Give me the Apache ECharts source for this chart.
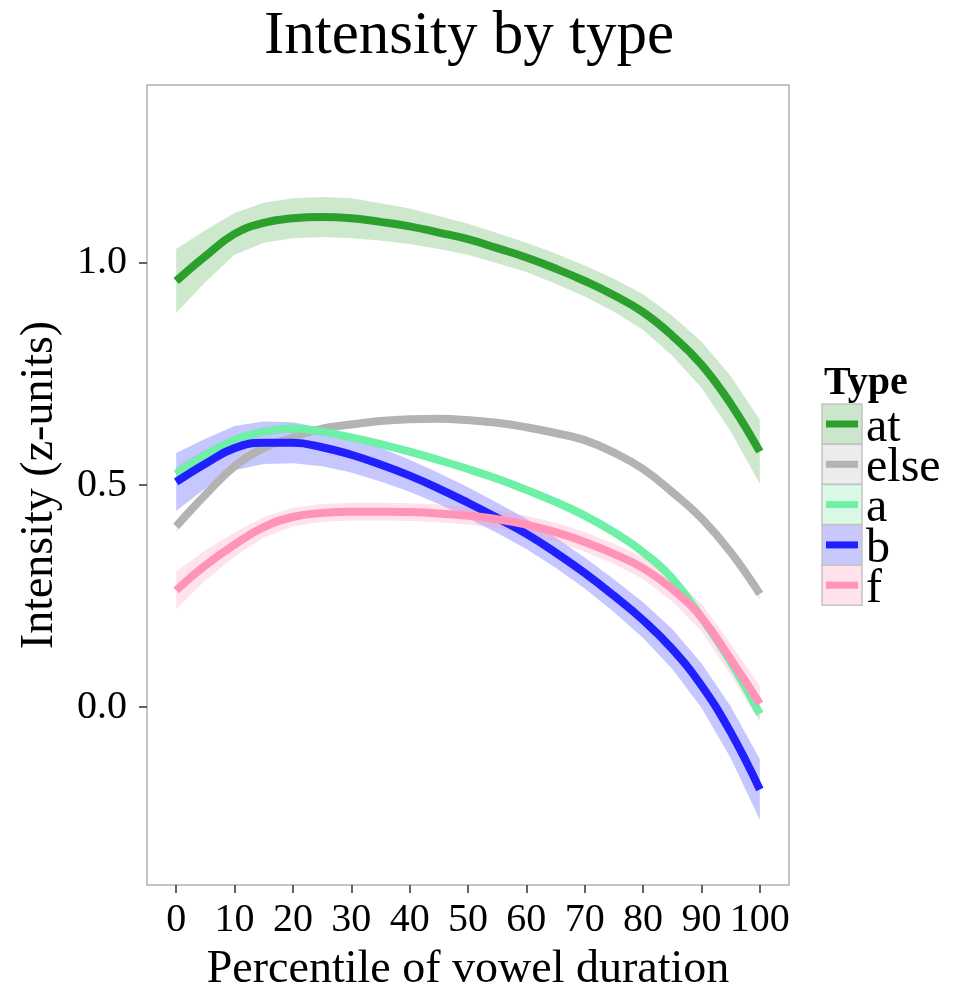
<!DOCTYPE html>
<html>
<head>
<meta charset="utf-8">
<script src="https://cdn.jsdelivr.net/npm/echarts@6/dist/echarts.min.js"></script>
<style>html,body{margin:0;padding:0;background:#fff}#c{width:955px;height:989px}</style>
</head>
<body>
<div id="c"></div>
<script>
// ---- data ----
var percentiles = [0,5,10,15,20,25,30,35,40,45,50,55,60,65,70,75,80,85,90,95,100];
var xTicks = [0,10,20,30,40,50,60,70,80,90,100];
var yTicks = [0, 0.5, 1.0];
var types = ['at','else','a','b','f'];

var at_fit = [0.959,1.015,1.065,1.090,1.100,1.103,1.100,1.092,1.082,1.068,1.053,1.033,1.012,0.987,0.959,0.927,0.889,0.836,0.771,0.683,0.575];
var at_lo  = [0.887,0.957,1.018,1.045,1.055,1.058,1.055,1.050,1.042,1.031,1.018,0.999,0.979,0.953,0.924,0.890,0.849,0.791,0.719,0.621,0.503];
var at_hi  = [1.031,1.073,1.112,1.135,1.145,1.148,1.145,1.134,1.122,1.105,1.088,1.067,1.045,1.021,0.994,0.964,0.929,0.881,0.823,0.745,0.647];

var else_fit = [0.407,0.478,0.542,0.583,0.607,0.627,0.636,0.644,0.648,0.649,0.646,0.640,0.630,0.617,0.601,0.573,0.536,0.484,0.425,0.349,0.255];
var else_lo  = [0.393,0.467,0.532,0.574,0.599,0.619,0.628,0.636,0.640,0.641,0.638,0.632,0.622,0.609,0.593,0.565,0.527,0.474,0.414,0.337,0.241];
var else_hi  = [0.421,0.489,0.552,0.592,0.615,0.635,0.644,0.652,0.656,0.657,0.654,0.648,0.638,0.625,0.609,0.581,0.545,0.494,0.436,0.361,0.269];

var a_fit = [0.525,0.567,0.601,0.620,0.627,0.620,0.607,0.592,0.575,0.556,0.536,0.514,0.489,0.462,0.431,0.394,0.349,0.290,0.202,0.102,-0.015];
var a_lo  = [0.509,0.554,0.590,0.610,0.618,0.611,0.599,0.584,0.567,0.548,0.528,0.506,0.481,0.454,0.423,0.385,0.340,0.280,0.191,0.089,-0.031];
var a_hi  = [0.541,0.580,0.612,0.630,0.636,0.629,0.615,0.600,0.583,0.564,0.544,0.522,0.497,0.470,0.439,0.403,0.358,0.300,0.213,0.115,0.001];

var b_fit = [0.507,0.548,0.583,0.595,0.595,0.585,0.568,0.546,0.521,0.492,0.460,0.426,0.390,0.348,0.302,0.251,0.196,0.131,0.049,-0.056,-0.185];
var b_lo  = [0.442,0.492,0.533,0.547,0.549,0.542,0.528,0.508,0.485,0.457,0.425,0.392,0.356,0.314,0.267,0.214,0.156,0.086,-0.001,-0.114,-0.253];
var b_hi  = [0.572,0.604,0.633,0.643,0.641,0.628,0.608,0.584,0.557,0.527,0.495,0.460,0.424,0.382,0.337,0.288,0.236,0.176,0.099,0.002,-0.117];

var f_fit = [0.263,0.319,0.366,0.405,0.428,0.437,0.440,0.440,0.439,0.436,0.431,0.423,0.411,0.394,0.372,0.345,0.313,0.266,0.202,0.108,0.008];
var f_lo  = [0.221,0.285,0.339,0.382,0.407,0.417,0.420,0.420,0.419,0.416,0.411,0.403,0.391,0.373,0.350,0.322,0.288,0.238,0.171,0.073,-0.032];
var f_hi  = [0.305,0.353,0.393,0.428,0.449,0.457,0.460,0.460,0.459,0.456,0.451,0.443,0.431,0.415,0.394,0.368,0.338,0.294,0.233,0.143,0.048];

// ---- styling ----
var lineColors = {at:'#2ca02c', 'else':'#b3b3b3', a:'#6ef0a6', b:'#2020ff', f:'#ff94b8'};
var bandColors = {at:'rgba(44,160,44,0.24)', 'else':'rgba(179,179,179,0.25)', a:'rgba(110,240,166,0.25)', b:'rgba(32,32,255,0.25)', f:'rgba(255,148,184,0.27)'};
var legendFill = {at:'#cce6cc', 'else':'#ececec', a:'#daf9e7', b:'#c8c8ff', f:'#ffe2ec'};
var groups = {
  at:{fit:at_fit, lo:at_lo, hi:at_hi},
  'else':{fit:else_fit, lo:else_lo, hi:else_hi},
  a:{fit:a_fit, lo:a_lo, hi:a_hi},
  b:{fit:b_fit, lo:b_lo, hi:b_hi},
  f:{fit:f_fit, lo:f_lo, hi:f_hi}
};
var FONT = 'Liberation Serif';

function pairs(ys){ return percentiles.map(function(x,i){ return [x, ys[i]]; }); }

function bandSeries(t){
  var g = groups[t];
  // one data row per percentile: [x, lo, hi]
  var rows = percentiles.map(function(x,i){ return [x, g.lo[i], g.hi[i]]; });
  return {
    type:'custom', name:t+'_band', silent:true,
    data: rows,
    encode:{x:0, y:[1,2]},
    renderItem:function(params, api){
      if (params.dataIndex !== 0) return null;
      var upper = [], lower = [];
      for (var i = 0; i < rows.length; i++){
        upper.push(api.coord([rows[i][0], rows[i][2]]));
        lower.unshift(api.coord([rows[i][0], rows[i][1]]));
      }
      return {type:'polygon', shape:{points:upper.concat(lower)},
        style:{fill:bandColors[t], stroke:null}};
    }
  };
}

var series = [];
types.forEach(function(t){
  var g = groups[t];
  series.push(bandSeries(t));
  series.push({
    type:'line', name:t, data:pairs(g.fit), showSymbol:false, symbol:'none', smooth:0.45,
    lineStyle:{color:lineColors[t], width:8, cap:'butt'}, silent:true
  });
});

// legend drawn as graphic elements from the type list
var legendEls = [];
legendEls.push({type:'text', left:824, top:364, style:{text:'Type', font:'bold 40px "'+FONT+'"', fill:'#000'}});
types.forEach(function(t,i){
  var y0 = 404 + i*40.3;
  legendEls.push({type:'rect', shape:{x:822, y:y0, width:40, height:40}, style:{fill:legendFill[t], stroke:'#c4c4c4', lineWidth:1.5}});
  legendEls.push({type:'line', shape:{x1:826, y1:y0+20, x2:858, y2:y0+20}, style:{stroke:lineColors[t], lineWidth:7}});
  legendEls.push({type:'text', x:866, y:y0+24, style:{text:t, font:'48px "'+FONT+'"', fill:'#000', textVerticalAlign:'middle'}});
});

var chart = echarts.init(document.getElementById('c'), null, {renderer:'canvas'});
chart.setOption({
  animation:false,
  backgroundColor:'#fff',
  title:{text:'Intensity by type', left:464, textAlign:'center', top:1,
    textStyle:{fontFamily:FONT, fontSize:61, fontWeight:'normal', color:'#000'}},
  grid:{left:147, top:85, width:642, height:800, show:true, borderColor:'#b3b3b3', borderWidth:1.5, backgroundColor:'#fff', containLabel:false, outerBoundsMode:'none'},
  xAxis:{type:'value', min:-5, max:105,
    name:'Percentile of vowel duration', nameLocation:'middle', nameGap:62, nameMoveOverlap:false,
    nameTextStyle:{fontFamily:FONT, fontSize:46, color:'#000', verticalAlign:'top'},
    axisLine:{show:false, onZero:false}, splitLine:{show:false},
    axisTick:{show:true, length:8, customValues:xTicks, lineStyle:{color:'#333', width:1.5}},
    axisLabel:{customValues:xTicks, fontFamily:FONT, fontSize:40, color:'#000', margin:15}
  },
  yAxis:{type:'value', min:-0.4, max:1.4,
    name:'Intensity (z-units)', nameLocation:'middle', nameGap:84, nameRotate:90, nameMoveOverlap:false,
    nameTextStyle:{fontFamily:FONT, fontSize:46, color:'#000'},
    axisLine:{show:false, onZero:false}, splitLine:{show:false},
    axisTick:{show:true, length:8, customValues:yTicks, lineStyle:{color:'#333', width:1.5}},
    axisLabel:{customValues:yTicks, fontFamily:FONT, fontSize:40, color:'#000', margin:20,
      formatter:function(v){ return v.toFixed(1); }}
  },
  graphic:legendEls,
  series:series
});
</script>
</body>
</html>
